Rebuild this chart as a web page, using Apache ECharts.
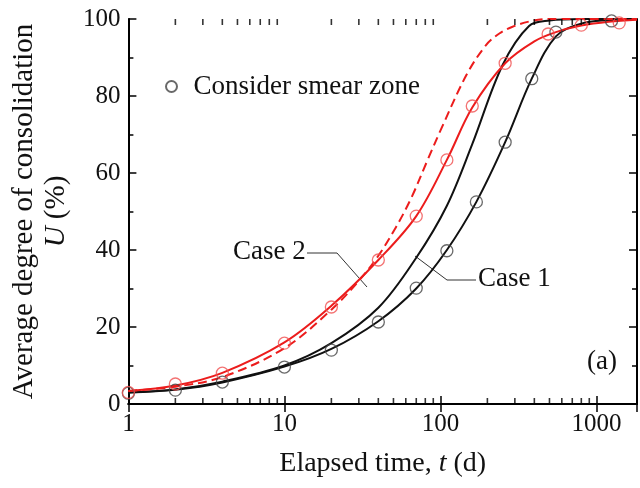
<!DOCTYPE html>
<html>
<head>
<meta charset="utf-8">
<script src="https://cdn.jsdelivr.net/npm/echarts@6/dist/echarts.min.js"></script>
<style>
html, body { margin: 0; padding: 0; background: #fff; }
#main { width: 640px; height: 488px; }
</style>
</head>
<body>
<div id="main"></div>
<script>
// data: [t (d), U (%)]
var case1Fast = [[1,3],[2,3.8],[4,5.8],[10,10],[20,15.8],[40,25],[70,38],[110,51.5],[160,67.5],[250,88],[370,98.2],[500,99.6],[800,100],[1820,100]];
var case1Smear = [[1,3],[2,3.7],[4,5.6],[10,9.7],[20,14.3],[40,21.5],[70,30],[110,40],[170,52.5],[260,68],[385,84.5],[550,95.5],[800,98.8],[1200,99.7],[1820,100]];
var case2Smear = [[1,3.4],[2,4.8],[4,8.1],[10,16],[20,25.5],[40,37.4],[70,48.8],[110,63.4],[160,77],[260,88.5],[400,94.2],[550,96.6],[800,98.3],[1200,99.3],[1820,99.8]];
var case2Fast = [[1,3.4],[2,4.5],[4,7],[10,14.5],[20,24.5],[30,32],[40,38.5],[52,46],[65,53.5],[83,63.5],[100,71],[147,85.5],[196,93.2],[240,96.3],[290,98],[385,99.5],[500,100],[1820,100]];
var blackPts = [[1,2.8],[2,3.6],[4,5.7],[10,9.6],[20,14],[40,21.3],[70,30.1],[110,39.8],[170,52.5],[260,68],[385,84.5],[550,96.6],[1250,99.5]];
var redPts = [[1,3],[2,5.2],[4,8],[10,15.8],[20,25.2],[40,37.4],[70,48.8],[110,63.4],[160,77.4],[260,88.5],[490,96.1],[800,98.4],[1400,99]];
var minorX = [2,3,4,5,6,7,8,9,20,30,40,50,60,70,80,90,200,300,400,500,600,700,800,900];
var xMin = 1, xMax = 1820;

var FONT = "'Liberation Serif', 'Times New Roman', serif";
var RED = '#ec1c1c';

var chart = echarts.init(document.getElementById('main'));

function lineSeries(name, data, color, type) {
    return {
        name: name,
        type: 'line',
        data: data,
        smooth: 0.35,
        showSymbol: false,
        silent: true,
        lineStyle: { color: color, width: 2, type: type || 'solid' },
        z: 3
    };
}

// minor log ticks (2..9 in each decade), pointing into the plot
function tickSeries(y, offset) {
    return {
        type: 'scatter',
        data: minorX.map(function (v) { return [v, y]; }),
        symbol: 'rect',
        symbolSize: [1.6, 6],
        symbolOffset: [0, offset],
        itemStyle: { color: '#000' },
        clip: false,
        silent: true,
        z: 5
    };
}

var axisLine = { show: true, lineStyle: { color: '#000', width: 2 } };

var option = {
    backgroundColor: '#fff',
    animation: false,
    grid: { left: 127, top: 19, right: 1, bottom: 84 },
    legend: {
        data: ['Consider smear zone'],
        left: 160,
        top: 68,
        itemWidth: 34,
        itemHeight: 11,
        textStyle: { fontFamily: FONT, fontSize: 27, color: '#111' }
    },
    xAxis: [
        {
            type: 'log',
            logBase: 10,
            min: xMin,
            max: xMax,
            position: 'bottom',
            name: 'Elapsed time, {i|t} (d)',
            nameLocation: 'middle',
            nameGap: 46,
            nameTextStyle: {
                fontFamily: FONT, fontSize: 28, color: '#111',
                rich: { i: { fontFamily: FONT, fontSize: 28, fontStyle: 'italic', color: '#111' } }
            },
            axisLine: axisLine,
            axisTick: { inside: true, length: 8, lineStyle: { color: '#000', width: 1.5 } },
            axisLabel: {
                fontFamily: FONT, fontSize: 25, color: '#111', margin: 8,
                formatter: function (v) {
                    var l = Math.log(v) / Math.LN10;
                    return Math.abs(l - Math.round(l)) < 1e-6 ? String(Math.round(v)) : '';
                }
            },
            splitLine: { show: false }
        },
        {
            type: 'log',
            logBase: 10,
            min: xMin,
            max: xMax,
            position: 'top',
            axisLine: axisLine,
            axisTick: { inside: true, length: 8, lineStyle: { color: '#000', width: 1.5 } },
            axisLabel: { show: false },
            splitLine: { show: false }
        }
    ],
    yAxis: [
        {
            type: 'value',
            min: 0,
            max: 100,
            interval: 20,
            position: 'left',
            name: '{a|Average degree of consolidation}\n{i|U} {a|(%)}',
            nameLocation: 'middle',
            nameRotate: 90,
            nameGap: 46,
            nameTextStyle: {
                fontFamily: FONT, fontSize: 29, color: '#111', lineHeight: 32,
                rich: {
                    a: { fontFamily: FONT, fontSize: 29, color: '#111', lineHeight: 32 },
                    i: { fontFamily: FONT, fontSize: 29, fontStyle: 'italic', color: '#111', lineHeight: 32 }
                }
            },
            axisLine: axisLine,
            axisTick: { inside: true, length: 8, lineStyle: { color: '#000', width: 1.5 } },
            minorTick: { show: true, splitNumber: 2, length: 5, lineStyle: { color: '#000', width: 1.5 } },
            axisLabel: { fontFamily: FONT, fontSize: 25, color: '#111', margin: 8 },
            splitLine: { show: false }
        },
        {
            type: 'value',
            min: 0,
            max: 100,
            interval: 20,
            position: 'right',
            axisLine: axisLine,
            axisTick: { inside: true, length: 8, lineStyle: { color: '#000', width: 1.5 } },
            minorTick: { show: true, splitNumber: 2, length: 5, lineStyle: { color: '#000', width: 1.5 } },
            axisLabel: { show: false },
            splitLine: { show: false }
        }
    ],
    series: [
        lineSeries('case1Fast', case1Fast, '#111'),
        lineSeries('case1Smear', case1Smear, '#111'),
        lineSeries('case2Smear', case2Smear, RED),
        lineSeries('case2Fast', case2Fast, RED, [9, 5]),
        {
            name: 'Consider smear zone',
            type: 'scatter',
            data: blackPts,
            symbol: 'circle',
            symbolSize: 12,
            itemStyle: { color: 'rgba(0,0,0,0)', borderColor: '#444', borderWidth: 1.3 },
            clip: false,
            z: 4
        },
        {
            name: 'redPts',
            type: 'scatter',
            data: redPts,
            symbol: 'circle',
            symbolSize: 12,
            itemStyle: { color: 'rgba(0,0,0,0)', borderColor: '#f05050', borderWidth: 1.3 },
            clip: false,
            z: 4
        },
        tickSeries(0, -3),
        tickSeries(100, 3)
    ],
    graphic: [
        { type: 'text', left: 233, top: 238, style: { text: 'Case 2', font: '27px ' + FONT, fill: '#111' } },
        { type: 'polyline', shape: { points: [[307, 253], [337, 253], [367, 287]] }, style: { stroke: '#333', lineWidth: 1, fill: null } },
        { type: 'text', left: 478, top: 265, style: { text: 'Case 1', font: '27px ' + FONT, fill: '#111' } },
        { type: 'polyline', shape: { points: [[476, 280], [447, 280], [415, 256]] }, style: { stroke: '#333', lineWidth: 1, fill: null } },
        { type: 'text', left: 587, top: 348, style: { text: '(a)', font: '27px ' + FONT, fill: '#111' } }
    ]
};

chart.setOption(option);
</script>
</body>
</html>
